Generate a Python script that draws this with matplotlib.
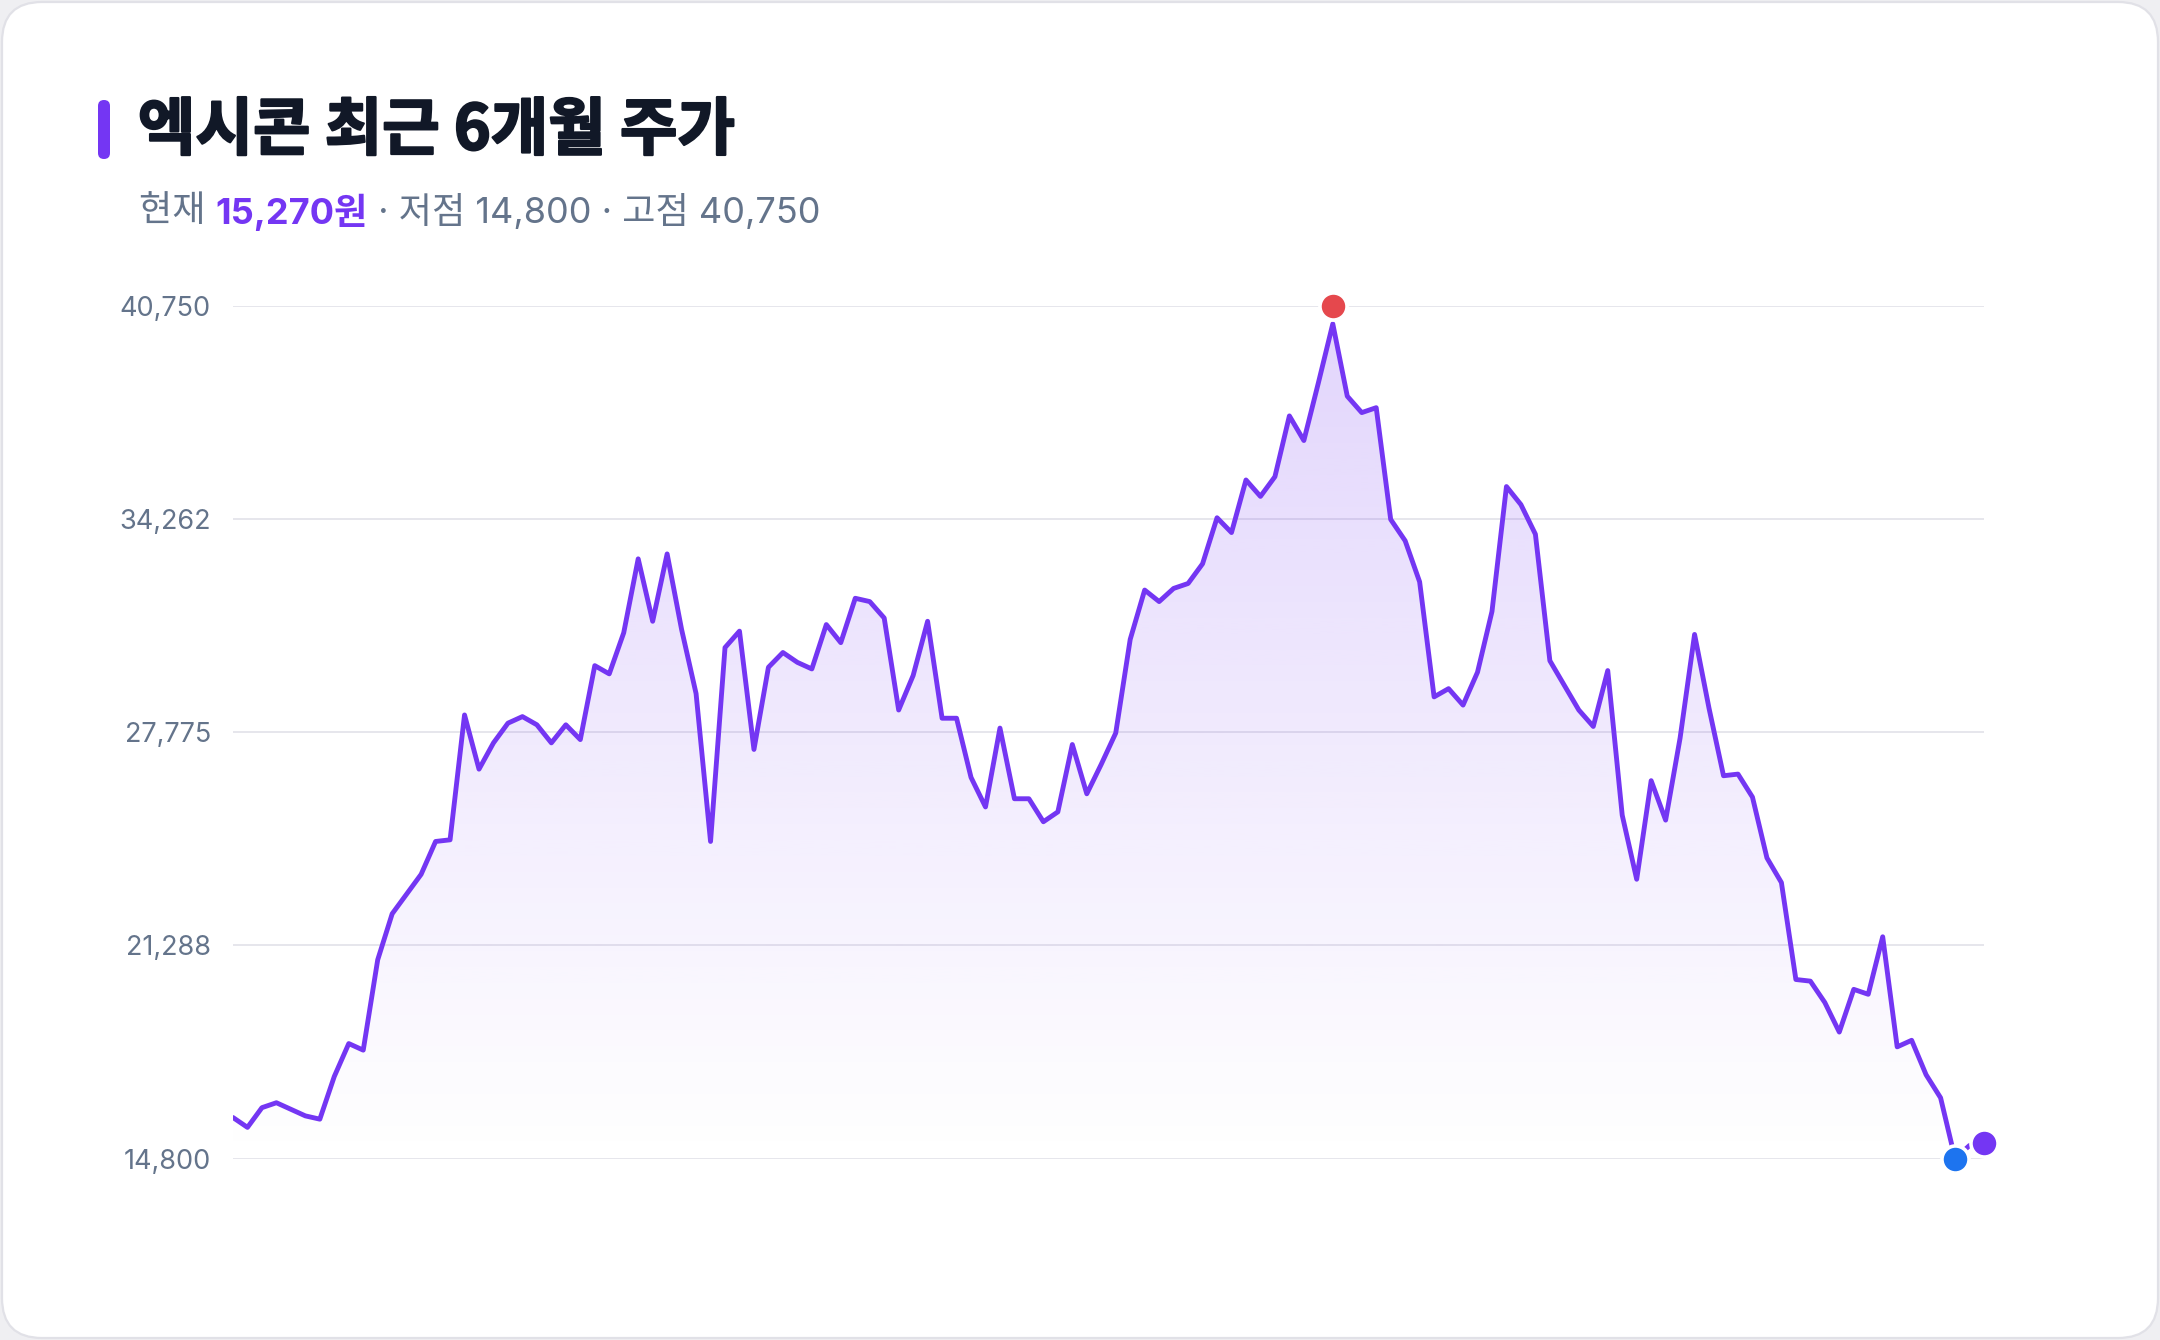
import numpy as np
import matplotlib
matplotlib.use("Agg")
import matplotlib.pyplot as plt
from matplotlib.patches import FancyBboxPatch, Polygon
from matplotlib.colors import to_rgb
import matplotlib.patheffects as pe

# ---------------- data ----------------
title = "엑시콘 최근 6개월 주가"
prices = [
    16050, 15750, 16350, 16500, 16300, 16100, 16000, 17300, 18300, 18100,
    20850, 22250, 22850, 23450, 24450, 24500, 28300, 26650, 27450, 28050,
    28250, 28000, 27450, 28000, 27550, 29800, 29550, 30800, 33050, 31150,
    33200, 30900, 28950, 24450, 30350, 30850, 27250, 29750, 30200, 29900,
    29700, 31050, 30500, 31850, 31750, 31250, 28450, 29500, 31150, 28200,
    28200, 26400, 25500, 27900, 25750, 25750, 25050, 25350, 27400, 25900,
    26800, 27750, 30600, 32100, 31750, 32150, 32300, 32900, 34300, 33850,
    35450, 34950, 35550, 37400, 36650, 38400, 40200, 38000, 37500, 37650,
    34250, 33600, 32350, 28850, 29100, 28600, 29600, 31450, 35250, 34700,
    33800, 29950, 29200, 28450, 27950, 29650, 25250, 23300, 26300, 25100,
    27600, 30750, 28500, 26450, 26500, 25800, 23950, 23200, 20250, 20200,
    19550, 18650, 19950, 19800, 21550, 18200, 18400, 17350, 16650, 14800,
    15200, 15270,
]
current_price = 15270
low_price = 14800
high_price = 40750
low_idx = 119
high_idx = 76
y_ticks = [14800, 21288, 27775, 34262, 40750]

# ---------------- style ----------------
PURPLE = "#7436f3"
RED = "#e5484d"
BLUE = "#1d74ef"
GRAY = "#64748b"
DARK = "#111827"
GRID = "#e6e6ec"

W, H = 2160, 1340
fig = plt.figure(figsize=(W / 100, H / 100), dpi=100)
fig.patch.set_facecolor("#efeff2")

# background / card layer in pixel coordinates
bg = fig.add_axes([0, 0, 1, 1])
bg.set_xlim(0, W)
bg.set_ylim(H, 0)
bg.axis("off")
bg.add_patch(FancyBboxPatch((2, 2), W - 4, H - 4,
                            boxstyle="round,pad=0,rounding_size=40",
                            fc="white", ec="#e1e1e7", lw=1.6))
bg.add_patch(FancyBboxPatch((98, 100), 12, 59,
                            boxstyle="round,pad=0,rounding_size=6",
                            fc=PURPLE, ec="none"))

CJK = ["Noto Sans CJK KR", "DejaVu Sans"]
SUB = ["Inter", "Noto Sans CJK KR", "DejaVu Sans"]

bg.text(138, 131, title, fontsize=45, fontweight=900, color=DARK,
        va="center", ha="left", family=CJK,
        path_effects=[pe.withStroke(linewidth=1.6, foreground=DARK)])

renderer = fig.canvas.get_renderer()
pieces = [
    ("현재 ", GRAY, "normal"),
    (f"{current_price:,}원", PURPLE, "bold"),
    (f" · 저점 {low_price:,} · 고점 {high_price:,}", GRAY, "normal"),
]
xpos = 139
for txt, col, wt in pieces:
    t = bg.text(xpos, 212, txt, fontsize=26, color=col, fontweight=wt,
                va="center", ha="left", family=SUB)
    bb = t.get_window_extent(renderer=renderer)
    xpos += bb.width

# ---------------- chart ----------------
left, right = 233, 1984
top, bottom = 305.8, 1158.6
ax = fig.add_axes([left / W, 1 - bottom / H, (right - left) / W, (bottom - top) / H])
ax.set_facecolor("none")
for s in ax.spines.values():
    s.set_visible(False)

x = np.arange(len(prices))
ymin, ymax = y_ticks[0], y_ticks[-1]

# gradient fill under the line
verts = np.column_stack([np.r_[x[0], x, x[-1]], np.r_[ymin, prices, ymin]])
clip = Polygon(verts, closed=True, fc="none", ec="none", transform=ax.transData)
ax.add_patch(clip)
grad = np.zeros((256, 1, 4))
grad[..., :3] = to_rgb(PURPLE)
grad[:, 0, 3] = np.linspace(0.21, 0.0, 256)
im = ax.imshow(grad, extent=[x[0], x[-1], ymin, ymax], aspect="auto",
               origin="upper", zorder=1, interpolation="bilinear")
im.set_clip_path(clip)

ax.plot(x, prices, color=PURPLE, lw=3.5, solid_joinstyle="round",
        solid_capstyle="round", zorder=3)

mk = dict(ms=19.5, mec="white", mew=2.6, clip_on=False, zorder=5)
ax.plot(high_idx, high_price, "o", mfc=RED, **mk)
ax.plot(low_idx, low_price, "o", mfc=BLUE, **mk)
ax.plot(x[-1], current_price, "o", mfc=PURPLE, **mk)

ax.set_xlim(x[0], x[-1])
ax.set_ylim(ymin, ymax)
ax.set_xticks([])
ax.set_yticks(y_ticks)
ax.set_yticklabels([f"{v:,}" for v in y_ticks])
ax.tick_params(axis="y", length=0, pad=16, labelsize=19.5, labelcolor=GRAY)
for lab in ax.get_yticklabels():
    lab.set_family(SUB)
ax.yaxis.grid(True, color=GRID, lw=1.4, zorder=0)
ax.set_axisbelow(True)

fig.savefig("out.png", dpi=100, facecolor=fig.get_facecolor())
